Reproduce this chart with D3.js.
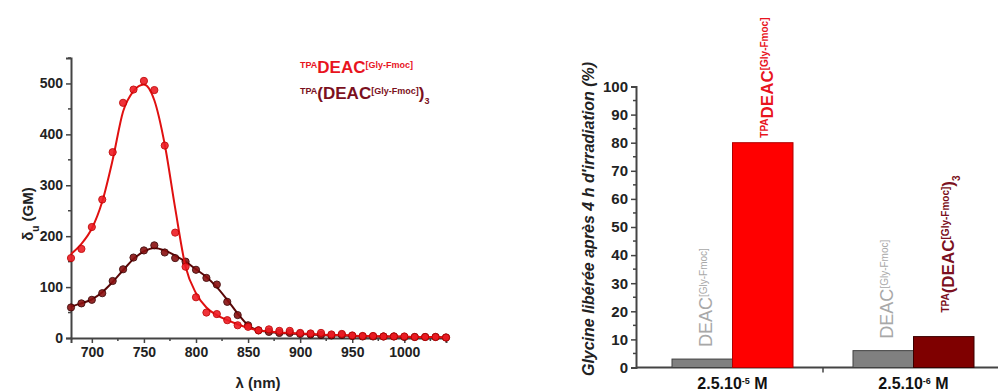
<!DOCTYPE html>
<html><head><meta charset="utf-8">
<script src="https://cdn.jsdelivr.net/npm/d3@7"></script>
<style>
body{margin:0;background:#fff;}
svg text{font-family:Arial,"Liberation Sans",sans-serif;}
</style></head>
<body><svg id="c" width="998" height="392"></svg>
<script>
// ---------- Data: left panel (2PA cross-section) ----------
const wavelengths = [680,690,700,710,720,730,740,750,760,770,780,790,800,810,820,830,840,850,860,870,880,890,900,910,920,930,940,950,960,970,980,990,1000,1010,1020,1030,1040];
const monoPoints  = [157,175,218,272,365,462,488,505,487,378,207,140,80,50,47,35,25,22,15,17,14,14,10,9,10,7,8,5,4,4,3,3,3,2,2,2,1];
const monoFit     = [165,185,215,268,350,445,485,498,467,380,255,140,88,60,45,35,27,20,15,13,11,10,9,8,7,6,6,5,4,4,3,3,3,2,2,2,1];
const triPoints   = [60,68,75,88,112,135,158,172,182,168,157,150,134,118,105,71,45,25,15,12,10,10,8,7,6,5,6,4,3,3,3,3,2,2,2,2,1];
const triFit      = [62,68,76,90,110,133,155,170,177,172,162,150,135,120,100,75,48,25,15,12,10,9,8,7,6,5,5,4,3,3,3,3,2,2,2,2,1];
const xTicksL = [700,750,800,850,900,950,1000];
const yTicksL = [0,100,200,300,400,500];

// ---------- Data: right panel (glycine release) ----------
const groups = ["2.5.10-5 M","2.5.10-6 M"];
const groupExp = ["-5","-6"];
const barGroup  = [0,0,1,1];
const barSlot   = [0,1,0,1];
const barValues = [3,80,6,11];
const barKinds  = ["deac","tpa","deac","tri"];
const yTicksR = [0,10,20,30,40,50,60,70,80,90,100];

const colors = {tpa:"#ff0000", tri:"#7f0000", deac:"#808080"};
const strokes = {tpa:"#b00000", tri:"#3a0000", deac:"#404040"};
const textCol = {tpa:"#e8141e", tri:"#7b1020", deac:"#a8a8a8"};
const labelGap = {deac:12, tpa:5, tri:24};

const svg = d3.select("#c");
const axisCol = "#444";

// ===== LEFT PANEL =====
const xL = d3.scaleLinear().domain([680,1040]).range([71,446]);
const yL = d3.scaleLinear().domain([0,550]).range([338,58]);
const gL = svg.append("g");

const xAxL = d3.axisBottom(xL).tickValues(xTicksL).tickFormat(d3.format("d")).tickSize(5).tickPadding(4);
const yAxL = d3.axisLeft(yL).tickValues(yTicksL).tickFormat(d3.format("d")).tickSize(5).tickPadding(3);
const gxL = gL.append("g").attr("transform",`translate(0,${yL(0)})`).call(xAxL);
const gyL = gL.append("g").attr("transform",`translate(${xL(680)},0)`).call(yAxL);
gL.append("g").selectAll("line").data(d3.range(725,1040,50)).join("line")
  .attr("x1",d=>xL(d)).attr("x2",d=>xL(d)).attr("y1",yL(0)).attr("y2",yL(0)+3)
  .attr("stroke",axisCol).attr("stroke-width",1.5);
gL.append("g").selectAll("line").data(d3.range(50,551,100)).join("line")
  .attr("x1",xL(680)).attr("x2",xL(680)-3).attr("y1",d=>yL(d)).attr("y2",d=>yL(d))
  .attr("stroke",axisCol).attr("stroke-width",1.5);
[gxL,gyL].forEach(g=>{
  g.select(".domain").attr("stroke",axisCol).attr("stroke-width",2);
  g.selectAll(".tick line").attr("stroke",axisCol).attr("stroke-width",1.5);
  g.selectAll(".tick text").attr("fill","#222").attr("font-size",14).attr("font-weight","bold");
});

const lineGen = d3.line().x((d,i)=>xL(wavelengths[i])).y(d=>yL(d)).curve(d3.curveMonotoneX);
const seriesL = [
  {pts:monoPoints, fit:monoFit, fill:"#ee1c24", stroke:"#c00000", line:"#e01010"},
  {pts:triPoints, fit:triFit, fill:"#8a1010", stroke:"#3c0000", line:"#5a0808"}
];
[seriesL[1],seriesL[0]].forEach(s=>{
  gL.append("path").datum(s.fit).attr("d",lineGen).attr("fill","none")
    .attr("stroke",s.line).attr("stroke-width",2);
  gL.append("g").selectAll("circle").data(s.pts).join("circle")
    .attr("cx",(d,i)=>xL(wavelengths[i])).attr("cy",d=>yL(d)).attr("r",3.6)
    .attr("fill",s.fill).attr("stroke",s.stroke).attr("stroke-width",1).attr("opacity",0.9);
});

gL.append("text").attr("x",258).attr("y",388).attr("text-anchor","middle")
  .attr("font-size",15).attr("font-weight","bold").attr("fill","#222").text("λ (nm)");
const yt = gL.append("text").attr("transform","translate(33,214) rotate(-90)")
  .attr("text-anchor","middle").attr("font-size",15).attr("font-weight","bold").attr("fill","#222");
yt.append("tspan").text("δ");
yt.append("tspan").attr("baseline-shift","sub").attr("font-size",10).text("u");
yt.append("tspan").text(" (GM)");

function richLabel(t, parts){
  parts.forEach(p=>{
    const ts = t.append("tspan").text(p.t).attr("font-size",p.s);
    if(p.shift) ts.attr("baseline-shift",p.shift);
  });
}
const leg1 = gL.append("text").attr("x",300).attr("y",73).attr("font-weight","bold").attr("fill",textCol.tpa);
richLabel(leg1,[{t:"TPA",s:9,shift:"super"},{t:"DEAC",s:17},{t:"[Gly-Fmoc]",s:9,shift:"super"}]);
const leg2 = gL.append("text").attr("x",300).attr("y",99).attr("font-weight","bold").attr("fill",textCol.tri);
richLabel(leg2,[{t:"TPA",s:9,shift:"super"},{t:"(DEAC",s:17},{t:"[Gly-Fmoc]",s:9,shift:"super"},{t:")",s:17},{t:"3",s:9,shift:"sub"}]);

// ===== RIGHT PANEL =====
const yR = d3.scaleLinear().domain([0,100]).range([367.5,86.5]);
const xG = d3.scaleBand().domain(d3.range(groups.length)).range([642,1004]);
const barW = 60.5;
const gR = svg.append("g");

const yAxR = d3.axisLeft(yR).tickValues(yTicksR).tickSize(5).tickPadding(3);
const gyR = gR.append("g").attr("transform","translate(636,0)").call(yAxR);
gyR.select(".domain").attr("stroke",axisCol).attr("stroke-width",2);
gyR.selectAll(".tick line").attr("stroke",axisCol).attr("stroke-width",1.5);
gyR.selectAll(".tick text").attr("fill","#222").attr("font-size",15).attr("font-weight","bold");
gR.append("g").selectAll("line").data(d3.range(5,100,10)).join("line")
  .attr("x1",636).attr("x2",633).attr("y1",d=>yR(d)).attr("y2",d=>yR(d))
  .attr("stroke",axisCol).attr("stroke-width",1.5);
gR.append("line").attr("x1",636).attr("x2",998).attr("y1",yR(0)).attr("y2",yR(0))
  .attr("stroke",axisCol).attr("stroke-width",2);
gR.append("line").attr("x1",xG(1)).attr("x2",xG(1)).attr("y1",yR(0)).attr("y2",yR(0)+5)
  .attr("stroke",axisCol).attr("stroke-width",1.5);

const barX = i => xG(barGroup[i]) + xG.bandwidth()/2 + (barSlot[i]-1)*barW;
gR.append("g").selectAll("rect").data(barValues).join("rect")
  .attr("x",(d,i)=>barX(i)).attr("width",barW)
  .attr("y",d=>yR(d)).attr("height",d=>yR(0)-yR(d))
  .attr("fill",(d,i)=>colors[barKinds[i]]).attr("stroke",(d,i)=>strokes[barKinds[i]]).attr("stroke-width",1);

const labelDefs = {
  deac:{w:"normal", parts:[{t:"DEAC",s:18},{t:"[Gly-Fmoc]",s:10,shift:"super"}]},
  tpa:{w:"bold", parts:[{t:"TPA",s:10,shift:"super"},{t:"DEAC",s:17},{t:"[Gly-Fmoc]",s:10,shift:"super"}]},
  tri:{w:"bold", parts:[{t:"TPA",s:10,shift:"super"},{t:"(DEAC",s:17},{t:"[Gly-Fmoc]",s:10,shift:"super"},{t:")",s:17},{t:"3",s:10,shift:"sub"}]}
};
barValues.forEach((v,i)=>{
  const k = barKinds[i];
  const cx = barX(i) + barW/2 + 10;
  const by = yR(v) - labelGap[k];
  const t = gR.append("text").attr("transform",`translate(${cx},${by}) rotate(-90)`)
    .attr("font-weight",labelDefs[k].w).attr("fill",textCol[k]);
  richLabel(t,labelDefs[k].parts);
});

groups.forEach((g,i)=>{
  const t = gR.append("text").attr("x",xG(i)+xG.bandwidth()/2).attr("y",389)
    .attr("text-anchor","middle").attr("font-weight","bold").attr("fill","#111");
  richLabel(t,[{t:"2.5.10",s:16},{t:groupExp[i],s:9,shift:"super"},{t:" M",s:16}]);
});

gR.append("text").attr("transform","translate(594,219) rotate(-90)").attr("text-anchor","middle")
  .attr("font-size",16).attr("font-weight","bold").attr("font-style","italic").attr("fill","#222")
  .text("Glycine libérée après 4 h d'irradiation (%)");
</script></body></html>
